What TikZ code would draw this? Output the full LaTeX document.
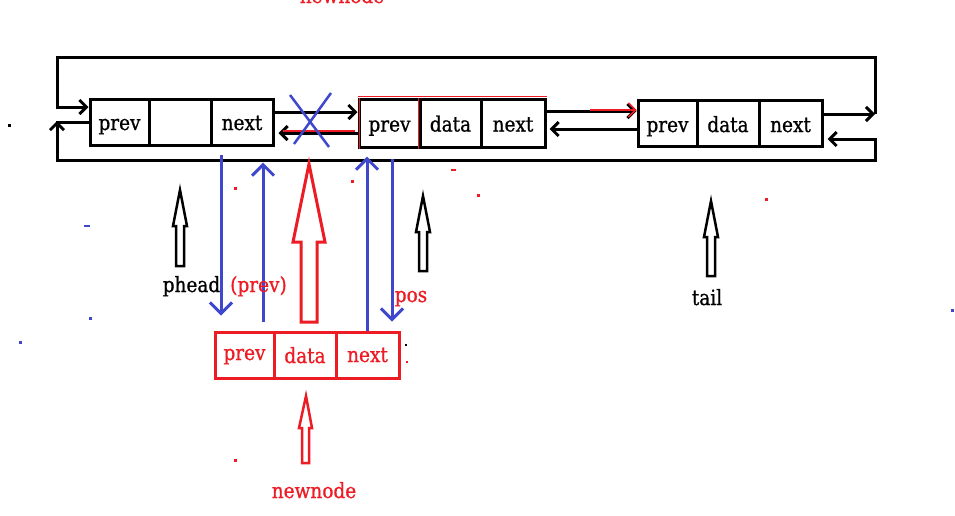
\documentclass[tikz,border=0pt]{standalone}
\usepackage{fontspec}
\setmainfont[FakeStretch=0.88,FakeBold=0.8]{DejaVu Serif}
\usetikzlibrary{arrows.meta}
\definecolor{pred}{RGB}{237,28,36}
\definecolor{pblue}{RGB}{63,72,204}
\begin{document}
\begin{tikzpicture}[x=1pt,y=-1pt,
  txt/.style={font=\fontsize{21}{23}\selectfont},
  cell/.style={txt,draw=black,line width=3pt,minimum height=46pt,inner sep=0pt,text height=16pt,text depth=0pt},
  rcell/.style={cell,draw=pred,text=pred},
  blk/.style={draw=black,line width=3pt,-{Straight Barb[length=7pt,width=14pt,line width=3pt]}},
  bl/.style={draw=pblue,line width=3pt,-{Straight Barb[length=11pt,width=22pt,line width=3pt]}},
  hol/.style={draw=black,line width=2.5pt,line join=miter},
  rhol/.style={draw=pred,line width=3pt,line join=miter},
  lbl/.style={txt,anchor=base,inner sep=0pt},
  dot/.style={inner sep=0pt,minimum size=3pt}]
\fill[white] (0,0) rectangle (955,515);
\useasboundingbox (0,0) rectangle (955,515);

% list nodes
\node[cell,minimum width=59pt] (a1) at (119.5,122) {prev};
\node[cell,minimum width=62pt] (a2) at (180,122) {};
\node[cell,minimum width=62pt] (a3) at (242,122) {next};

\node[cell,minimum width=61pt,minimum height=48pt,text height=17pt] (b1) at (389.5,123) {prev};
\node[cell,minimum width=61pt,minimum height=48pt,text height=17pt] (b2) at (450.5,123) {data};
\node[cell,minimum width=64pt,minimum height=48pt,text height=17pt] (b3) at (513,123) {next};

\node[cell,minimum width=59pt,text height=18pt] (c1) at (667.5,123) {prev};
\node[cell,minimum width=62pt,text height=18pt] (c2) at (728,123) {data};
\node[cell,minimum width=63pt,text height=18pt] (c3) at (790.5,123) {next};

\node[rcell,minimum width=59pt,text height=10pt] (d1) at (244.5,355) {prev};
\node[rcell,minimum width=62pt,text height=16pt] (d2) at (305,355) {data};
\node[rcell,minimum width=63pt,text height=14pt] (d3) at (367.5,355) {next};

% red touch-ups on middle node
\draw[pred,line width=1.5pt] ([yshift=1pt]b1.north west) -- ([yshift=1pt]b3.north east);
\draw[pred,line width=1.2pt] ([xshift=-3pt]b1.north east) -- ([xshift=-3pt]b1.south east);
\draw[pred,line width=1.2pt] ([xshift=2pt]b1.north west) -- ([xshift=2pt]b1.south west);

% circular links
\coordinate (tr) at (875,114);
\draw[blk] ([yshift=9pt]c3.east) -- (tr);
\draw[blk] (tr) -- (875,57) -- (57,57) -- (57,107) -- ([yshift=15pt]a1.west);
\draw[blk] (a1.west) -- (57,122) -- (57,160) -- (875,160) -- (875,139) -- ([yshift=-16pt,xshift=4pt]c3.east);
\draw[blk] (57,132) -- (57,121);

% links between nodes
\draw[blk] ([yshift=10pt]a3.east) -- ([yshift=11pt]b1.west);
\draw[blk] ([yshift=-10pt]b1.west) -- ([yshift=-11pt,xshift=4pt]a3.east);
\draw[pred,line width=1.2pt] (283,131) -- (355,131);
\draw[blk] ([yshift=12pt]b3.east) -- ([yshift=12pt]c1.west);
\draw[pred,line width=1.5pt,-{Straight Barb[length=7pt,width=14pt,line width=1.5pt]}] (590,110) -- ([yshift=13pt]c1.west);
\draw[blk] ([yshift=-6pt]c1.west) -- ([yshift=-6pt,xshift=3pt]b3.east);

% cross
\draw[pblue,line width=2.5pt] (290,95) -- (329,147) (331,93) -- (294,144);

% blue links to the new node
\draw[bl] ([xshift=-21pt,yshift=-8pt]a3.south) -- ([xshift=-23.5pt,yshift=15pt]d1.north);
\draw[bl] ([xshift=18.5pt,yshift=9pt]d1.north) -- ([xshift=21pt,yshift=-16pt]a3.south);
\draw[bl] ([xshift=-0.5pt]d3.north) -- ([xshift=-22.5pt,yshift=-8pt]b1.south);
\draw[bl] ([xshift=2.5pt,yshift=-10pt]b1.south) -- ([xshift=24.5pt,yshift=9pt]d3.north);

% hollow pointer arrows
\draw[hol] (180,190) -- (187,226) -- (184,226) -- (184,266) -- (176,266) -- (176,226) -- (173,226) -- cycle;
\draw[hol] (423,196) -- (430,232) -- (427,232) -- (427,271) -- (419,271) -- (419,232) -- (416,232) -- cycle;
\draw[hol] (711,201) -- (718,237) -- (715,237) -- (715,276) -- (707,276) -- (707,237) -- (704,237) -- cycle;
\draw[rhol] (309,164) -- (325,242) -- (317,242) -- (317,322) -- (301,322) -- (301,242) -- (293,242) -- cycle;
\draw[rhol,line width=2.5pt] (306,396) -- (312,428) -- (309,428) -- (309,463) -- (302,463) -- (302,428) -- (299,428) -- cycle;

% labels
\node[lbl] (ph) at (191.5,292) {phead};
\node[lbl,text=pred] (pv) at (258.5,292) {(prev)};
\node[lbl,text=pred] (ps) at (411,302) {pos};
\node[lbl] (tl) at (707,305) {tail};
\node[lbl,text=pred] (nn) at (314,498) {newnode};
\node[lbl,text=pred] (nt) at (342,3) {newnode};

% specks
\node[dot,fill=black] (s1) at (9,125) {};
\node[dot,fill=pred] (s2) at (235,188) {};
\node[dot,fill=pred] (s3) at (352,181) {};
\node[dot,fill=pred] (s4) at (478,195) {};
\node[dot,fill=pred] (s5) at (766,199) {};
\node[dot,fill=pred] (s6) at (235,460) {};
\node[dot,fill=pred,minimum width=5pt,minimum height=2pt] (s7) at (453,170) {};
\node[dot,fill=pblue,minimum width=6pt,minimum height=2pt] (s8) at (87,226) {};
\node[dot,fill=pblue] (s9) at (90,318) {};
\node[dot,fill=pblue] (s10) at (20,342) {};
\node[dot,fill=pblue] (s11) at (952,310) {};
\node[dot,fill=black,minimum size=2pt] (s12) at (406,345) {};
\node[dot,fill=pred,minimum size=2pt] (s13) at (407,362) {};
\end{tikzpicture}
\end{document}
